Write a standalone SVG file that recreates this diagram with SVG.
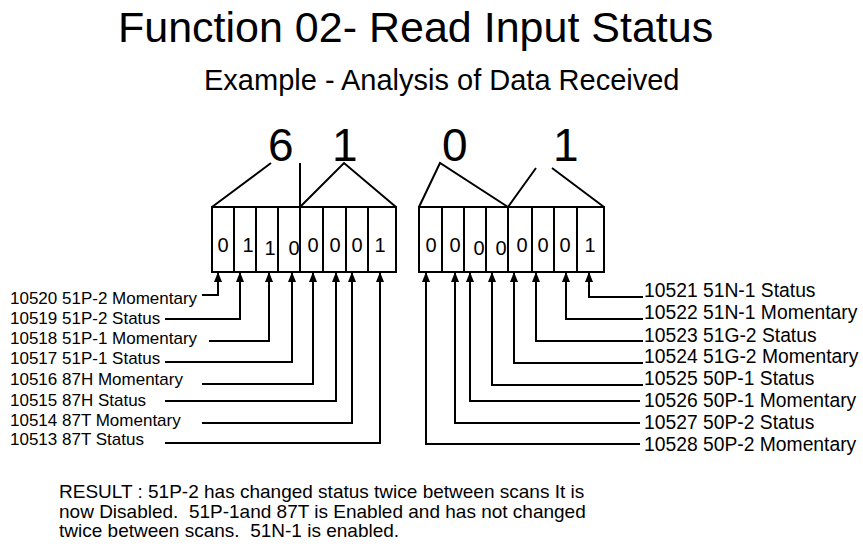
<svg xmlns="http://www.w3.org/2000/svg" width="863" height="550" viewBox="0 0 863 550">
<style>
text{font-family:"Liberation Sans",Arial,sans-serif;fill:#000}
.title{font-size:43px}
.sub{font-size:29px}
.big{font-size:46px}
.bit{font-size:20px;text-anchor:middle}
.lbl{font-size:17px}
.lblr{font-size:19.3px}
.res{font-size:19px;white-space:pre}
.box{fill:#fff;stroke:#000;stroke-width:2}
.ln{fill:none;stroke:#000;stroke-width:2}
.con{fill:none;stroke:#000;stroke-width:2;marker-end:url(#ah)}
</style>
<defs>
<marker id="ah" viewBox="0 0 10 8" markerWidth="10" markerHeight="8" refX="10" refY="4" orient="auto" markerUnits="userSpaceOnUse">
<path d="M0,0 L10,4 L0,8 z" fill="#000"/>
</marker>
</defs>
<rect width="863" height="550" fill="#fff"/>
<g id="title">
<text class="title" x="118" y="42">Function 02- Read Input Status</text>
<text class="sub" x="204" y="90">Example - Analysis of Data Received</text>
</g>
<g id="hex">
<text class="big" x="268" y="161">6</text>
<text class="big" x="332" y="161">1</text>
<text class="big" x="442" y="161">0</text>
<text class="big" x="553" y="161">1</text>
<path class="ln" d="M212,207 L271,163 M300,207 L300,163 M300,207 L344,163 L396,207"/>
<path class="ln" d="M419,207 L440,163 L508,207 M508,207 L536,168 M552,168 L604,207"/>
</g>
<g id="byte1">
<rect class="box" x="212" y="207" width="22" height="65"/>
<rect class="box" x="234" y="207" width="22" height="65"/>
<rect class="box" x="256" y="207" width="22" height="65"/>
<rect class="box" x="278" y="207" width="22" height="65"/>
<rect class="box" x="300" y="207" width="23" height="65"/>
<rect class="box" x="323" y="207" width="23" height="65"/>
<rect class="box" x="346" y="207" width="22" height="65"/>
<rect class="box" x="368" y="207" width="28" height="65"/>
<text class="bit" x="223" y="252">0</text>
<text class="bit" x="248" y="252">1</text>
<text class="bit" x="270" y="254.5">1</text>
<text class="bit" x="294" y="254.5">0</text>
<text class="bit" x="313" y="252">0</text>
<text class="bit" x="335" y="252">0</text>
<text class="bit" x="357" y="252">0</text>
<text class="bit" x="380" y="252">1</text>
</g>
<g id="byte2">
<rect class="box" x="419" y="207" width="23" height="65"/>
<rect class="box" x="442" y="207" width="22" height="65"/>
<rect class="box" x="464" y="207" width="22" height="65"/>
<rect class="box" x="486" y="207" width="22" height="65"/>
<rect class="box" x="508" y="207" width="24" height="65"/>
<rect class="box" x="532" y="207" width="22" height="65"/>
<rect class="box" x="554" y="207" width="23" height="65"/>
<rect class="box" x="577" y="207" width="27" height="65"/>
<text class="bit" x="431" y="252">0</text>
<text class="bit" x="455" y="252">0</text>
<text class="bit" x="479" y="254.5">0</text>
<text class="bit" x="501" y="254.5">0</text>
<text class="bit" x="522" y="252">0</text>
<text class="bit" x="543" y="252">0</text>
<text class="bit" x="565" y="252">0</text>
<text class="bit" x="590" y="252">1</text>
</g>
<g id="labels-left">
<text class="lbl" x="10" y="304">10520 51P-2 Momentary</text>
<text class="lbl" x="10" y="324">10519 51P-2 Status</text>
<text class="lbl" x="10" y="344">10518 51P-1 Momentary</text>
<text class="lbl" x="10" y="364">10517 51P-1 Status</text>
<text class="lbl" x="10" y="385">10516 87H Momentary</text>
<text class="lbl" x="10" y="406">10515 87H Status</text>
<text class="lbl" x="10" y="426">10514 87T Momentary</text>
<text class="lbl" x="10" y="445">10513 87T Status</text>
</g>
<g id="labels-right">
<text class="lblr" x="644" y="297">10521 51N-1 Status</text>
<text class="lblr" x="644" y="319">10522 51N-1 Momentary</text>
<text class="lblr" x="644" y="342">10523 51G-2 Status</text>
<text class="lblr" x="644" y="363">10524 51G-2 Momentary</text>
<text class="lblr" x="644" y="385">10525 50P-1 Status</text>
<text class="lblr" x="644" y="407">10526 50P-1 Momentary</text>
<text class="lblr" x="644" y="429">10527 50P-2 Status</text>
<text class="lblr" x="644" y="451">10528 50P-2 Momentary</text>
</g>
<g id="connectors">
<path class="con" d="M202,295 H218 V272"/>
<path class="con" d="M165,319 H240 V272"/>
<path class="con" d="M209,341 H269 V272"/>
<path class="con" d="M165,362 H292 V272"/>
<path class="con" d="M202,384 H313 V272"/>
<path class="con" d="M165,401 H336 V272"/>
<path class="con" d="M202,423 H352 V272"/>
<path class="con" d="M165,443 H380 V272"/>
<path class="con" d="M643,297 H589 V272"/>
<path class="con" d="M643,319 H566 V272"/>
<path class="con" d="M643,341 H536 V272"/>
<path class="con" d="M643,363 H514 V272"/>
<path class="con" d="M643,385 H492 V272"/>
<path class="con" d="M640,401 H470 V272"/>
<path class="con" d="M640,423 H455 V272"/>
<path class="con" d="M640,444 H426 V272"/>
</g>
<g id="result">
<text class="res" x="59" y="497.5">RESULT : 51P-2 has changed status twice between scans It is</text>
<text class="res" x="59" y="517.5">now Disabled.  51P-1and 87T is Enabled and has not changed</text>
<text class="res" x="59" y="537">twice between scans.  51N-1 is enabled.</text>
</g>
</svg>
